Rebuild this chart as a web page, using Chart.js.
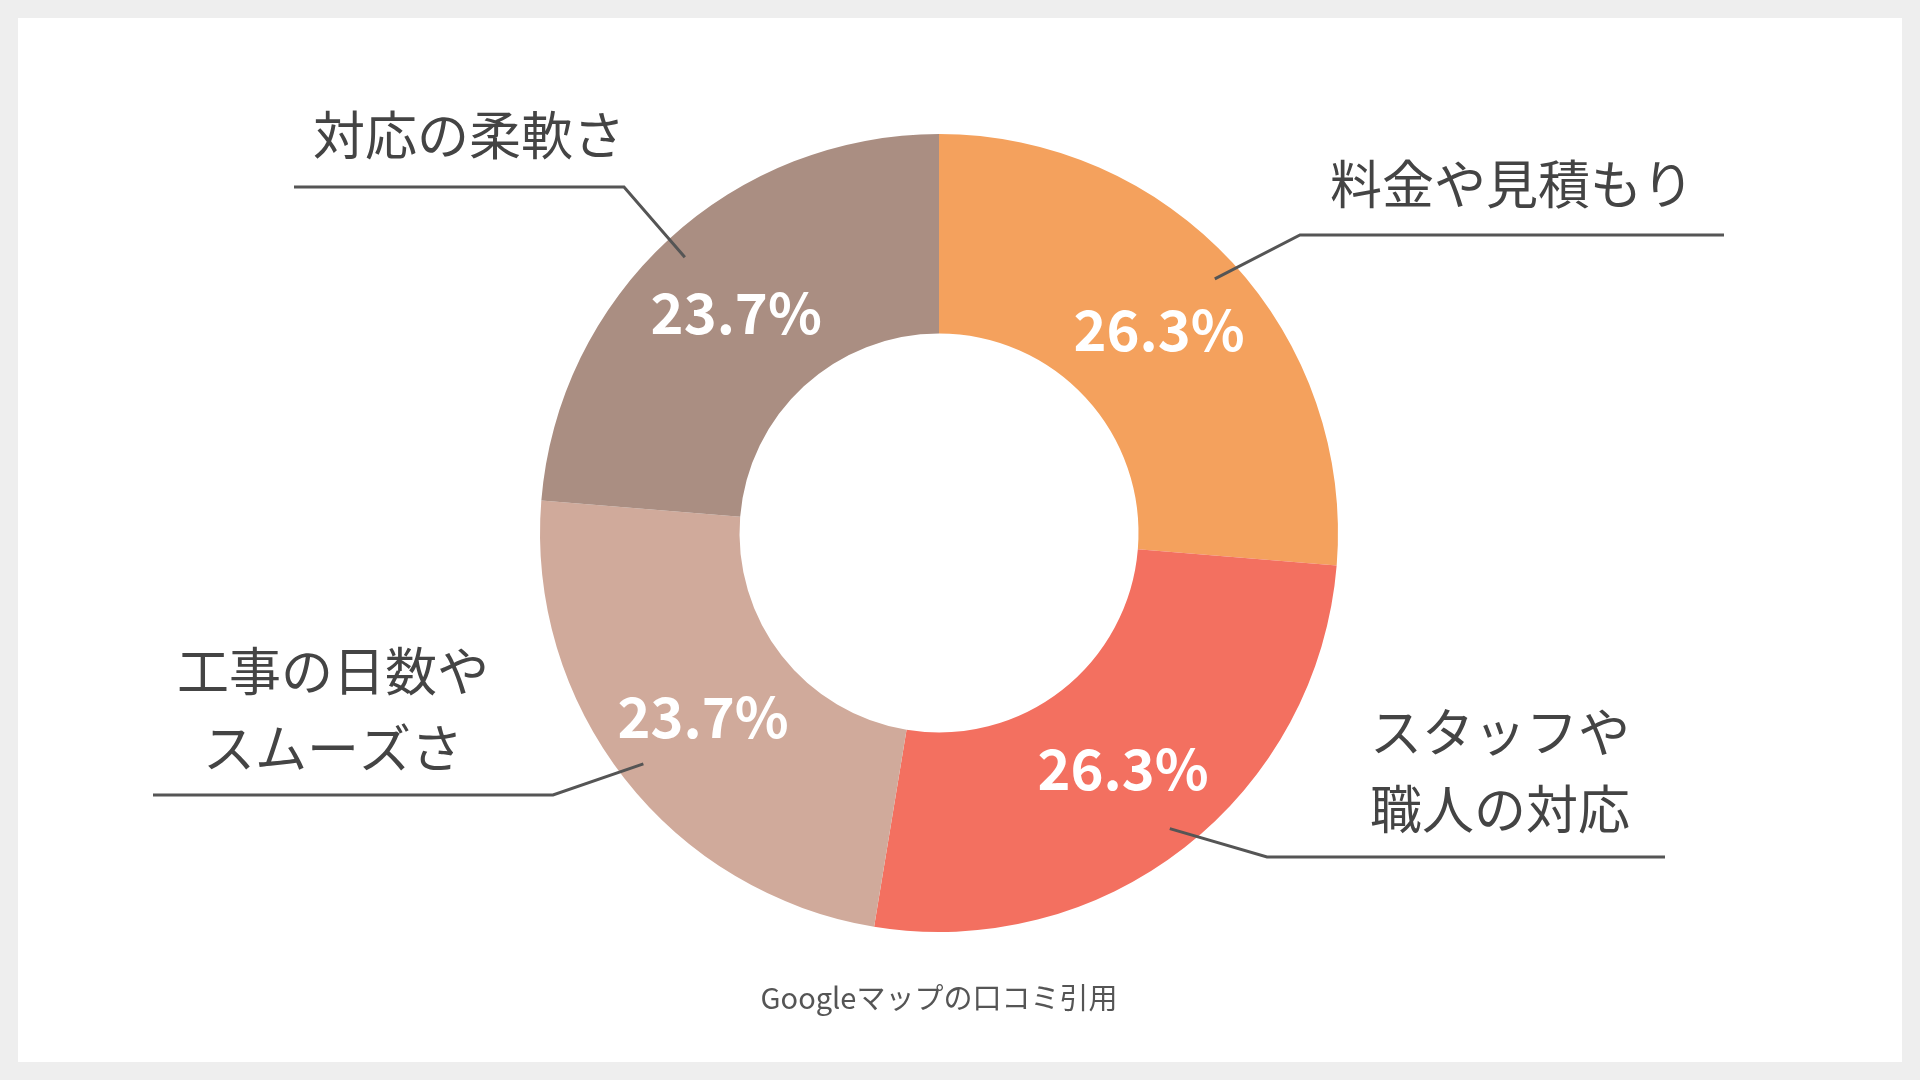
<!DOCTYPE html>
<html><head><meta charset="utf-8">
<script src="https://cdn.jsdelivr.net/npm/chart.js@4"></script>
<style>
html,body{margin:0;padding:0;background:#eeeeee;}
#wrap{position:absolute;left:18px;top:18px;width:1884px;height:1044px;background:#fff;}
canvas{position:absolute;left:0;top:0;}
</style></head><body>
<div id="wrap"></div>
<canvas id="c" width="1920" height="1080"></canvas>
<script>
const categories = ["料金や見積もり", "スタッフや職人の対応", "工事の日数やスムーズさ", "対応の柔軟さ"];
const labelLines = [["料金や見積もり"], ["スタッフや", "職人の対応"], ["工事の日数や", "スムーズさ"], ["対応の柔軟さ"]];
const values = [26.3, 26.3, 23.7, 23.7];
const colors = ["#F4A15D", "#F37060", "#D0AA9B", "#AA8E82"];
const sourceText = "Googleマップの口コミ引用";

const FONT = "'Noto Sans CJK JP','Noto Sans',sans-serif";
// leader layout: elbow offset, horizontal end x, text anchor
const leaders = [
  {elbow:[1300,235], endX:1724, text:[1512,184]},
  {elbow:[1267,857], endX:1665, text:[1500,732]},
  {elbow:[553,795], endX:153, text:[333,671]},
  {elbow:[624,187], endX:294, text:[469,135]}
];

const plugin = {
  id:'labels',
  afterDatasetsDraw(chart){
    const ctx = chart.ctx;
    const meta = chart.getDatasetMeta(0);
    meta.data.forEach((arc,i)=>{
      const p = arc.getProps(['x','y','startAngle','endAngle','innerRadius','outerRadius'],true);
      const mid = (p.startAngle+p.endAngle)/2;
      const rm = (p.innerRadius+p.outerRadius)/2;
      ctx.save();
      ctx.fillStyle = '#fff';
      ctx.font = `bold 56px ${FONT}`;
      ctx.textAlign='center'; ctx.textBaseline='middle';
      ctx.fillText(values[i].toFixed(1)+'%', p.x+Math.cos(mid)*rm, p.y+Math.sin(mid)*rm);
      const r0 = p.outerRadius*0.94;
      const sx = p.x+Math.cos(mid)*r0, sy = p.y+Math.sin(mid)*r0;
      const L = leaders[i];
      ctx.strokeStyle='#555'; ctx.lineWidth=3;
      ctx.beginPath(); ctx.moveTo(sx,sy); ctx.lineTo(L.elbow[0],L.elbow[1]); ctx.lineTo(L.endX,L.elbow[1]); ctx.stroke();
      ctx.fillStyle='#444';
      ctx.font = `52px ${FONT}`;
      labelLines[i].forEach((t,k)=>ctx.fillText(t, L.text[0], L.text[1]+k*77));
      ctx.restore();
    });
    ctx.save();
    ctx.fillStyle='#555'; ctx.font=`29px ${FONT}`;
    ctx.textAlign='center'; ctx.textBaseline='middle';
    ctx.fillText(sourceText, 939, 998);
    ctx.restore();
  }
};

new Chart(document.getElementById('c'), {
  type:'doughnut',
  data:{labels:categories, datasets:[{data:values, backgroundColor:colors, borderWidth:0}]},
  options:{
    responsive:false, animation:false, cutout:'50%',
    layout:{padding:{top:134,bottom:148,left:540,right:582}},
    plugins:{legend:{display:false}, tooltip:{enabled:false}}
  },
  plugins:[plugin]
});
</script>
</body></html>
